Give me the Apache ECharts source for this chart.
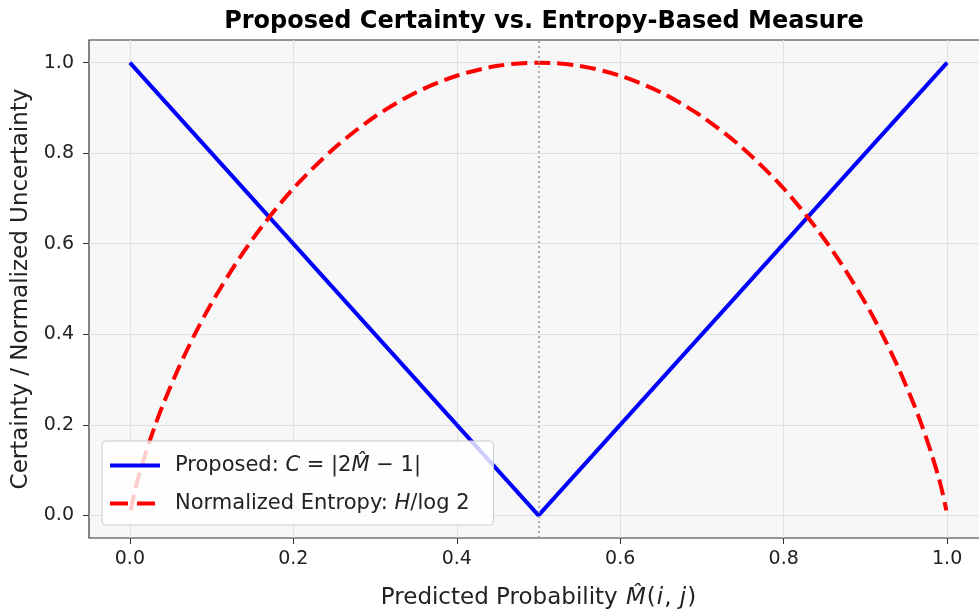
<!DOCTYPE html>
<html>
<head>
<meta charset="utf-8">
<script src="https://cdn.jsdelivr.net/npm/echarts@6/dist/echarts.min.js"></script>
<style>
html,body{margin:0;padding:0;background:#fff;overflow:hidden;}
#main{width:979px;height:615px;}
</style>
</head>
<body>
<div id="main"></div>
<script>
// certainty line, C = |2M - 1|
var certProb = [0.0, 0.5, 1.0];
var certVal = [1.0, 0.0, 1.0];
// normalized entropy
var entProb = [0.001, 0.005, 0.01, 0.02, 0.03, 0.04, 0.06, 0.08, 0.10, 0.13, 0.16, 0.20, 0.25, 0.30, 0.35, 0.40, 0.45, 0.50,
               0.55, 0.60, 0.65, 0.70, 0.75, 0.80, 0.84, 0.87, 0.90, 0.92, 0.94, 0.96, 0.97, 0.98, 0.99, 0.995, 0.999];
var entVal = [0.011, 0.045, 0.081, 0.141, 0.194, 0.242, 0.327, 0.402, 0.469, 0.557, 0.634, 0.722, 0.811, 0.881, 0.934, 0.971, 0.993, 1.000,
              0.993, 0.971, 0.934, 0.881, 0.811, 0.722, 0.634, 0.557, 0.469, 0.402, 0.327, 0.242, 0.194, 0.141, 0.081, 0.045, 0.011];
var xTicks = [0.0, 0.2, 0.4, 0.6, 0.8, 1.0];
var yTicks = [0.0, 0.2, 0.4, 0.6, 0.8, 1.0];
var midProb = 0.5;

/**
 * build [x,y] pairs
 */
function pairs(xs, ys)
{
	var out = [];
	for (var i = 0; i < xs.length; i++) {
		out.push([xs[i], ys[i]]);
	}
	return out;
}

var myChart = echarts.init(document.getElementById('main'));
var font = 'DejaVu Sans';
var legendRich = {
	s: {width: 10},
	n: {fontFamily: font, fontSize: 21, color: '#222'},
	i: {fontFamily: font, fontSize: 21, color: '#222', fontStyle: 'italic'}
};

var option = {
	animation: false,
	title: {
		text: 'Proposed Certainty vs. Entropy-Based Measure',
		left: 539, top: 5, textAlign: 'center',
		textStyle: {fontFamily: font, fontSize: 24, fontWeight: 'bold', color: '#000'}
	},
	grid: {
		left: 89, top: 40, right: -9, height: 498,
		outerBoundsMode: 'none', containLabel: false,
		show: true, backgroundColor: '#f7f7f7', borderColor: '#333', borderWidth: 1.2
	},
	legend: {
		orient: 'vertical',
		left: 102, top: 441,
		z: 6,
		itemWidth: 50, itemHeight: 14, itemGap: 17,
		padding: [14, 24, 11, 6],
		backgroundColor: 'rgba(255,255,255,0.8)',
		borderColor: '#cccccc', borderWidth: 1, borderRadius: 4,
		itemStyle: {opacity: 0},
		data: [
			{name: 'certainty', lineStyle: {width: 4, color: '#0000ff', type: 'solid'}},
			{name: 'entropy', lineStyle: {width: 4, color: '#ff0000', type: [18, 9]}}
		],
		formatter: function(name) {
			if (name == 'certainty') {
				return '{s| }{n|Proposed: }{i|C}{n| = |2}{i|M\u0302}{n| \u2212 1|}';
			}
			return '{s| }{n|Normalized Entropy: }{i|H}{n|/log 2}';
		},
		textStyle: {fontFamily: font, fontSize: 21, color: '#222', rich: legendRich}
	},
	xAxis: {
		type: 'value', min: -0.05, max: 1.05,
		name: '{n|Predicted Probability }{i|M\u0302}{n|(}{i|i}{n|, }{i|j}{n|)}',
		nameLocation: 'middle', nameGap: 49,
		nameTextStyle: {
			fontFamily: font, fontSize: 23, color: '#222',
			rich: {
				n: {fontFamily: font, fontSize: 23, color: '#222'},
				i: {fontFamily: font, fontSize: 23, color: '#222', fontStyle: 'italic', padding: [0, 1, 0, 1]}
			}
		},
		axisLine: {show: false, onZero: false},
		axisTick: {show: true, length: 6, customValues: xTicks, lineStyle: {color: '#333'}},
		axisLabel: {
			customValues: xTicks, margin: 12,
			fontFamily: font, fontSize: 19, color: '#222',
			formatter: function(v) { return v.toFixed(1); }
		},
		splitLine: {show: true, lineStyle: {color: '#e0e0e0', width: 1}}
	},
	yAxis: {
		type: 'value', min: -0.05, max: 1.05,
		name: 'Certainty / Normalized Uncertainty',
		nameLocation: 'middle', nameGap: 54,
		nameTextStyle: {fontFamily: font, fontSize: 23, color: '#222'},
		axisLine: {show: false, onZero: false},
		axisTick: {show: true, length: 6, customValues: yTicks, lineStyle: {color: '#333'}},
		axisLabel: {
			customValues: yTicks, margin: 15,
			fontFamily: font, fontSize: 19, color: '#222',
			formatter: function(v) { return v.toFixed(1); }
		},
		splitLine: {show: true, lineStyle: {color: '#e0e0e0', width: 1}}
	},
	series: [
		{
			name: 'certainty',
			type: 'line',
			data: pairs(certProb, certVal),
			showSymbol: false, symbol: 'none',
			lineStyle: {color: '#0000ff', width: 4},
			itemStyle: {color: '#0000ff'},
			z: 2,
			markLine: {
				silent: true, symbol: 'none',
				label: {show: false},
				lineStyle: {color: '#999', type: [2, 3], width: 1.6},
				data: [{xAxis: midProb}]
			}
		},
		{
			name: 'entropy',
			type: 'line',
			data: pairs(entProb, entVal),
			showSymbol: false, symbol: 'none',
			smooth: 0.3,
			lineStyle: {color: '#ff0000', width: 4, type: [16, 7]},
			itemStyle: {color: '#ff0000'},
			z: 3
		}
	]
};
myChart.setOption(option);
</script>
</body>
</html>
